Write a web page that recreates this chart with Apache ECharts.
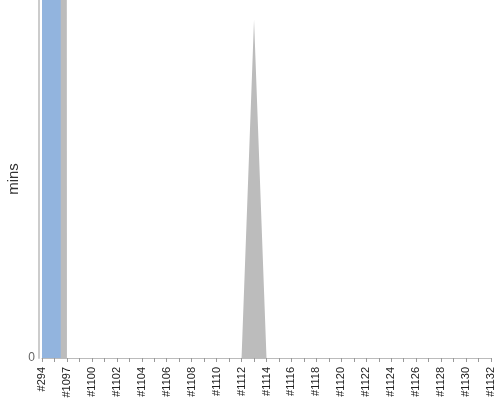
<!DOCTYPE html>
<html>
<head>
<meta charset="utf-8">
<script src="https://cdn.jsdelivr.net/npm/echarts@6/dist/echarts.min.js"></script>
<style>
  html, body { margin: 0; padding: 0; background: #fff; }
  #chart { width: 500px; height: 400px; }
</style>
</head>
<body>
<div id="chart"></div>
<script>
// builds on the x axis
var builds = ['#294', '#1096', '#1097', '#1099', '#1100', '#1101', '#1102', '#1103', '#1104',
    '#1105', '#1106', '#1107', '#1108', '#1109', '#1110', '#1111', '#1112', '#1113', '#1114',
    '#1115', '#1116', '#1117', '#1118', '#1119', '#1120', '#1121', '#1122', '#1123', '#1124',
    '#1125', '#1126', '#1127', '#1128', '#1129', '#1130', '#1131', '#1132'];

// minutes per build (the first two builds run far above the visible range)
var blueMins = [2000, 2000, 0, 0, 0, 0, 0, 0, 0, 0, 0, 0, 0, 0, 0, 0, 0, 0, 0,
    0, 0, 0, 0, 0, 0, 0, 0, 0, 0, 0, 0, 0, 0, 0, 0, 0, 0];
var greyMins = [2000, 2000, 0, 0, 0, 0, 0, 0, 0, 0, 0, 0, 0, 0, 0, 0, 0, 18.9, 0,
    0, 0, 0, 0, 0, 0, 0, 0, 0, 0, 0, 0, 0, 0, 0, 0, 0, 0];

var yMax = 20;

var chart = echarts.init(document.getElementById('chart'), null, {renderer: 'canvas'});

chart.setOption({
    animation: false,
    grid: {left: 42, right: 9, top: 0, bottom: 42, containLabel: false, outerBoundsMode: 'none'},
    xAxis: {
        type: 'category',
        data: builds,
        boundaryGap: false,
        axisLine: {lineStyle: {color: '#bbbbbb'}},
        axisTick: {interval: 0, length: 4, lineStyle: {color: '#999999'}},
        axisLabel: {
            interval: 1,
            rotate: 90,
            fontFamily: 'Liberation Sans',
            fontSize: 11,
            color: '#222',
            margin: 9
        },
        splitLine: {show: false}
    },
    yAxis: {
        type: 'value',
        name: 'mins',
        nameLocation: 'middle',
        nameGap: 18,
        nameMoveOverlap: false,
        nameTextStyle: {fontFamily: 'Liberation Sans', fontSize: 15, color: '#333'},
        min: 0,
        max: yMax,
        interval: yMax,
        offset: 3,
        axisLine: {show: true, lineStyle: {color: '#cccccc', width: 2}},
        axisTick: {show: false},
        axisLabel: {
            fontFamily: 'Liberation Sans',
            fontSize: 12,
            color: '#666',
            margin: 4,
            formatter: function (v) { return v === 0 ? '0' : ''; }
        },
        splitLine: {show: false}
    },
    series: [
        {
            name: 'grey',
            type: 'line',
            data: greyMins,
            symbol: 'none',
            lineStyle: {width: 0},
            areaStyle: {color: '#bcbcbc', opacity: 1},
            clip: true
        },
        {
            name: 'blue',
            type: 'line',
            data: blueMins,
            step: 'middle',
            symbol: 'none',
            lineStyle: {width: 0},
            areaStyle: {color: '#92b4de', opacity: 1},
            clip: true
        }
    ]
});
</script>
</body>
</html>
